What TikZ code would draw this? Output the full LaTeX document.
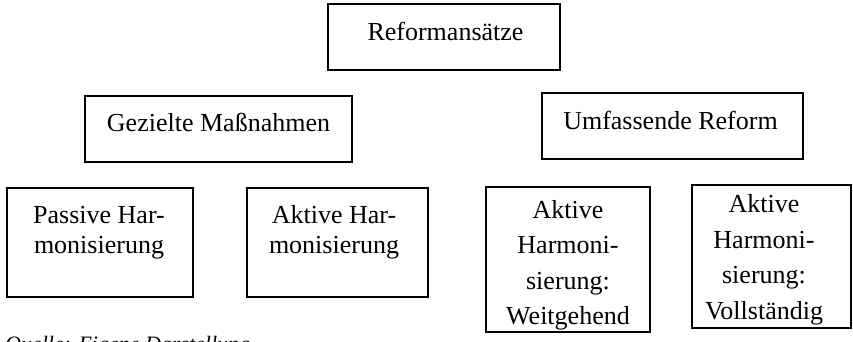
\documentclass[tikz,border=0pt]{standalone}
\usepackage{fontspec}
\setmainfont{Liberation Serif}
\begin{document}
\begin{tikzpicture}[x=1pt,y=-1pt,
  box/.style={draw, line width=1.4pt, inner sep=0pt, rectangle},
  lbl/.style={inner sep=0pt, anchor=base, align=center, font=\fontsize{26}{30}\selectfont},
  lblwide/.style={lbl, font=\fontsize{26}{35.5}\selectfont}]
\useasboundingbox (0,0) rectangle (853,341);
\clip (0,0) rectangle (853,341);
% boxes
\node[box, minimum width=232pt, minimum height=66pt] (top) at (444,37) {};
\node[box, minimum width=267pt, minimum height=66pt] (gm) at (218.5,129) {};
\node[box, minimum width=261pt, minimum height=66pt] (ur) at (672.5,126) {};
\node[box, minimum width=186pt, minimum height=109pt] (pa) at (100,242.5) {};
\node[box, minimum width=181pt, minimum height=109pt] (ak) at (337.5,242.5) {};
\node[box, minimum width=164pt, minimum height=145pt] (wg) at (568,259.5) {};
\node[box, minimum width=159pt, minimum height=143pt] (vs) at (771.5,256.5) {};
% texts (anchor=base is the baseline of the last line)
\node[lbl] (toptxt) at (445.5,40) {Reformansätze};
\node[lbl] (gmtxt) at (218.5,131) {Gezielte Maßnahmen};
\node[lbl] (urtxt) at (670.5,129) {Umfassende Reform};
\node[lbl] (patxt) at (99,253) {Passive Har-\\monisierung};
\node[lbl] (aktxt) at (334,253) {Aktive Har-\\monisierung};
\node[lblwide] (wgtxt) at (568,324.5) {Aktive\\Harmoni-\\sierung:\\Weitgehend};
\node[lblwide] (vstxt) at (764,319) {Aktive\\Harmoni-\\sierung:\\Vollständig};
% source line (cut off at the bottom edge)
\node[anchor=base west, inner sep=0pt, font=\fontsize{22}{26}\selectfont\itshape] (src) at (5,351) {Quelle: Eigene Darstellung};
\end{tikzpicture}
\end{document}
